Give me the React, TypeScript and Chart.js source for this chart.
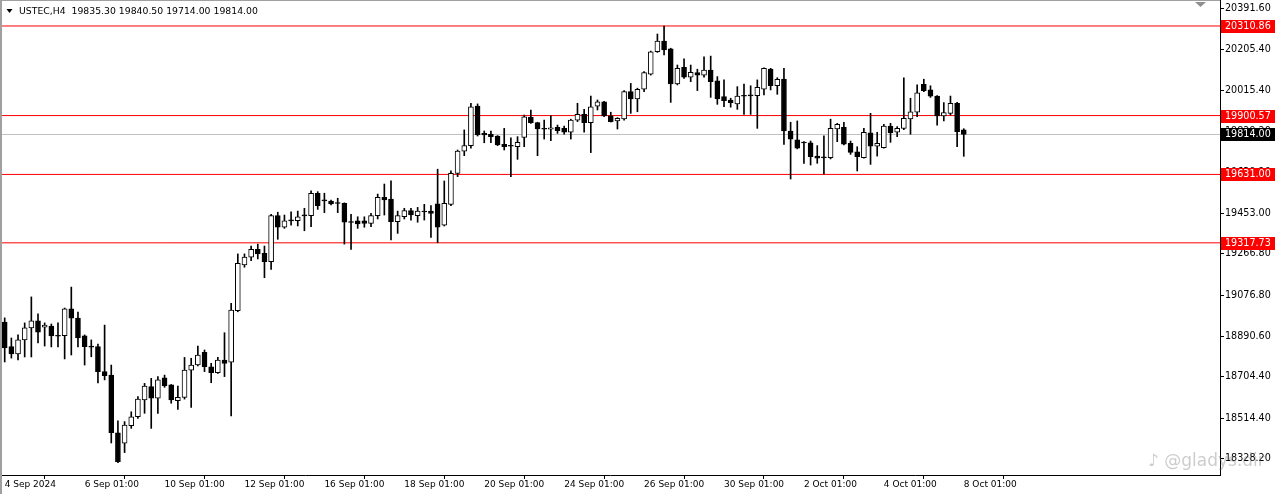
import React, { useEffect, useRef } from "react";
import { Chart, registerables } from "chart.js";
Chart.register(...registerables);

const symbolTitle = "USTEC,H4  19835.30 19840.50 19714.00 19814.00";

const opens = [
  18955, 18842, 18809, 18873, 18928, 18960, 18932, 18937, 18894, 18892,
  19015, 18973, 18892, 18843, 18842, 18728, 18712, 18448, 18400, 18480,
  18521, 18598, 18659, 18606, 18700, 18667, 18595, 18610, 18735, 18758,
  18816, 18750, 18723, 18781, 18771, 19007, 19216, 19252, 19288, 19270,
  19231, 19442, 19389, 19419, 19419, 19442, 19442, 19545, 19511, 19509,
  19499, 19499, 19412, 19418, 19418, 19407, 19442, 19526, 19518, 19415,
  19437, 19465, 19442, 19460, 19463, 19496, 19399, 19494, 19636, 19738,
  19763, 19944, 19819, 19815, 19807, 19769, 19761, 19758, 19801, 19893,
  19868, 19839, 19838, 19847, 19842, 19824, 19880, 19906, 19868, 19944,
  19964, 19899, 19876, 19885, 20010, 19977, 20022, 20090, 20193, 20242,
  20206, 20045, 20122, 20076, 20097, 20086, 20109, 20060, 19987, 19972,
  19954, 19990, 19992, 19992, 20022, 20114, 20037, 20068, 19830, 19789,
  19776, 19776, 19715, 19708, 19708, 19839, 19847, 19774, 19735, 19708,
  19822, 19761, 19753, 19853, 19824, 19842, 19885, 19916, 20044, 20018,
  19990, 19899, 19911, 19957, 19835.3,
];
const highs = [
  18974, 18882, 18896, 18951, 19070, 18992, 18951, 18946, 18951, 19019,
  19115, 19001, 18896, 18873, 18854, 18941, 18758, 18503, 18499, 18544,
  18613, 18674, 18697, 18705, 18712, 18669, 18662, 18793, 18789, 18845,
  18827, 18766, 18793, 18906, 19041, 19267, 19267, 19303, 19312, 19303,
  19448, 19458, 19445, 19460, 19463, 19476, 19556, 19552, 19545, 19514,
  19522, 19501, 19448, 19437, 19437, 19453, 19541, 19587, 19602, 19463,
  19476, 19476, 19480, 19494, 19488, 19655, 19601, 19647, 19743, 19835,
  19957, 19954, 19830, 19830, 19809, 19842, 19799, 19804, 19903, 19926,
  19870, 19880, 19900, 19857, 19853, 19884, 19957, 19929, 19990, 19972,
  19966, 19916, 19891, 20015, 20048, 20026, 20102, 20196, 20274, 20311,
  20209, 20132, 20160, 20132, 20113, 20170, 20173, 20079, 20064, 19980,
  20033, 20045, 20037, 20064, 20119, 20117, 20074, 20117, 19870, 19876,
  19781, 19784, 19763, 19808, 19884, 19865, 19870, 19784, 19758, 19842,
  19911, 19824, 19861, 19865, 19850, 20074, 19980, 20041, 20067, 20037,
  19992, 19960, 19990, 19961, 19840.5,
];
const lows = [
  18772, 18790, 18781, 18795, 18795, 18859, 18845, 18841, 18841, 18786,
  18804, 18841, 18758, 18796, 18676, 18690, 18401, 18311, 18357, 18468,
  18514, 18537, 18468, 18537, 18656, 18583, 18555, 18602, 18564, 18754,
  18728, 18677, 18720, 18705, 18525, 19002, 19206, 19236, 19244, 19158,
  19196, 19334, 19384, 19399, 19395, 19373, 19392, 19471, 19456, 19491,
  19456, 19312, 19288, 19384, 19389, 19392, 19427, 19445, 19331, 19361,
  19427, 19422, 19412, 19422, 19343, 19318, 19395, 19488, 19621, 19717,
  19751, 19807, 19776, 19776, 19763, 19743, 19621, 19700, 19758, 19865,
  19717, 19793, 19786, 19819, 19815, 19793, 19873, 19824, 19731, 19926,
  19895, 19871, 19839, 19880, 19911, 19918, 20010, 20086, 20190, 20178,
  19961, 20041, 20071, 20056, 20015, 20076, 19984, 19952, 19941, 19939,
  19929, 19906, 19906, 19842, 19995, 20018, 19998, 19769, 19610, 19748,
  19682, 19674, 19682, 19632, 19702, 19781, 19766, 19723, 19647, 19705,
  19677, 19715, 19751, 19778, 19804, 19836, 19815, 19895, 20010, 19984,
  19857, 19876, 19903, 19758, 19714,
];
const closes = [
  18836, 18809, 18873, 18928, 18960, 18909, 18941, 18891, 18890, 19015,
  18973, 18882, 18842, 18840, 18728, 18709, 18448, 18315, 18483, 18521,
  18602, 18662, 18606, 18690, 18662, 18598, 18610, 18735, 18758, 18804,
  18750, 18723, 18781, 18766, 19010, 19224, 19252, 19288, 19267, 19231,
  19442, 19389, 19419, 19418, 19437, 19441, 19545, 19488, 19510, 19496,
  19498, 19412, 19411, 19404, 19407, 19442, 19526, 19514, 19415, 19442,
  19465, 19445, 19463, 19459, 19453, 19389, 19499, 19636, 19738, 19763,
  19941, 19812, 19812, 19804, 19766, 19758, 19760, 19778, 19895, 19868,
  19839, 19838, 19845, 19831, 19824, 19880, 19906, 19868, 19941, 19964,
  19899, 19873, 19888, 20010, 19977, 20021, 20097, 20193, 20242, 20201,
  20045, 20117, 20076, 20099, 20086, 20109, 20056, 19977, 19969, 19960,
  19990, 19989, 19991, 20030, 20117, 20037, 20067, 19830, 19793, 19751,
  19775, 19712, 19705, 19707, 19842, 19861, 19770, 19732, 19712, 19824,
  19761, 19774, 19853, 19822, 19842, 19888, 19918, 20005, 20015, 19990,
  19899, 19914, 19957, 19827, 19814,
];

const timeTickBars = [0, 12, 24, 36, 48, 60, 72, 84, 96, 108, 120, 132, 144];
const timeTickLabels = [
  "4 Sep 2024", "6 Sep 01:00", "10 Sep 01:00", "12 Sep 01:00", "16 Sep 01:00",
  "18 Sep 01:00", "20 Sep 01:00", "24 Sep 01:00", "26 Sep 01:00", "30 Sep 01:00",
  "2 Oct 01:00", "4 Oct 01:00", "8 Oct 01:00",
];
const priceTicks = [
  20391.6, 20205.4, 20015.4, 19829.2, 19639.2, 19453.0, 19266.8, 19076.8,
  18890.6, 18704.4, 18514.4, 18328.2,
];
const redLevels = [20310.86, 19900.57, 19631.0, 19317.73];
const bidLevel = 19814.0;

const X_MIN = -0.706;
const X_MAX = 182.47;
const Y_MIN = 18254.4;
const Y_MAX = 20429.9;
const FONT = "'DejaVu Sans', Verdana, sans-serif";

const decorPlugin = {
  id: "mt4decor",
  afterDraw(chart: any) {
    const ctx = chart.ctx as CanvasRenderingContext2D;
    const y = chart.scales.y;
    const area = chart.chartArea;
    ctx.save();
    // frame
    ctx.fillStyle = "#a0a0a0";
    ctx.fillRect(0, 0, 2, chart.height);
    ctx.fillRect(0, 0, area.right, 1);
    // title
    ctx.fillStyle = "#000";
    ctx.beginPath();
    ctx.moveTo(6.5, 9);
    ctx.lineTo(12.5, 9);
    ctx.lineTo(9.5, 13);
    ctx.closePath();
    ctx.fill();
    ctx.font = `9.3px ${FONT}`;
    ctx.textBaseline = "middle";
    ctx.textAlign = "left";
    ctx.fillText(symbolTitle, 19, 11.5);
    // shift marker
    ctx.fillStyle = "#909090";
    ctx.beginPath();
    ctx.moveTo(1195, 2);
    ctx.lineTo(1206, 2);
    ctx.lineTo(1200.5, 7);
    ctx.closePath();
    ctx.fill();
    // level labels
    const drawBox = (v: number, bg: string) => {
      const py = Math.round(y.getPixelForValue(v));
      ctx.fillStyle = bg;
      ctx.fillRect(area.right + 1, py - 6, 54, 13);
      ctx.fillStyle = "#fff";
      ctx.font = `9.6px ${FONT}`;
      ctx.textBaseline = "middle";
      ctx.fillText(v.toFixed(2), area.right + 5, py + 0.5);
    };
    redLevels.forEach((v) => drawBox(v, "#ff0000"));
    drawBox(bidLevel, "#000000");
    // watermark
    ctx.fillStyle = "rgba(110,110,110,0.35)";
    ctx.font = `17px ${FONT}`;
    ctx.textBaseline = "middle";
    ctx.fillText("\u266A @gladys.dir", 1148, 462);
    ctx.restore();
  },
};

export default function App() {
  const ref = useRef<HTMLCanvasElement | null>(null);
  useEffect(() => {
    document.body.style.margin = "0";
    const canvas = ref.current;
    if (!canvas) return;
    Chart.defaults.font.family = FONT;
    Chart.defaults.font.size = 9;
    Chart.defaults.color = "#000";

    const bodies = opens.map((o, i) => ({ x: i, y: [o, closes[i]] }));
    const wicks = lows.map((l, i) => ({ x: i, y: [l, highs[i]] }));
    const bodyColors = opens.map((o, i) => (closes[i] > o ? "#ffffff" : "#000000"));
    const levelLine = (v: number) => [
      { x: X_MIN, y: v },
      { x: X_MAX, y: v },
    ];

    const datasets: any[] = [
      {
        type: "bar",
        data: bodies,
        backgroundColor: bodyColors,
        borderColor: "#000000",
        borderWidth: 1,
        borderSkipped: false,
        barThickness: 5,
        minBarLength: 1,
        grouped: false,
        order: 0,
      },
      {
        type: "bar",
        data: wicks,
        backgroundColor: "#000000",
        borderWidth: 0,
        barThickness: 1,
        grouped: false,
        order: 1,
      },
      ...redLevels.map((v) => ({
        type: "line",
        data: levelLine(v),
        borderColor: "#ff0000",
        borderWidth: 1,
        pointRadius: 0,
        order: 2,
      })),
      {
        type: "line",
        data: levelLine(bidLevel),
        borderColor: "#c0c0c0",
        borderWidth: 1,
        pointRadius: 0,
        order: 3,
      },
    ];

    const chart = new Chart(canvas, {
      type: "bar",
      data: { datasets },
      options: {
        responsive: false,
        animation: false,
        events: [],
        devicePixelRatio: 1,
        layout: { padding: 0 },
        plugins: { legend: { display: false }, tooltip: { enabled: false } },
        scales: {
          x: {
            type: "linear",
            min: X_MIN,
            max: X_MAX,
            offset: false,
            grid: {
              display: true,
              drawOnChartArea: false,
              drawTicks: true,
              tickLength: 4,
              color: "#000",
            },
            border: { display: true, color: "#000", width: 1 },
            ticks: {
              autoSkip: false,
              maxRotation: 0,
              align: "start",
              padding: 0,
              font: { size: 9, family: FONT },
              color: "#000",
              callback: (v: any) => {
                const k = timeTickBars.indexOf(Number(v));
                return k >= 0 ? timeTickLabels[k] : "";
              },
            },
            afterBuildTicks: (s: any) => {
              s.ticks = timeTickBars.map((v) => ({ value: v }));
            },
            afterFit: (s: any) => {
              s.height = 19;
              s.paddingLeft = 0;
              s.paddingRight = 0;
            },
          },
          y: {
            type: "linear",
            position: "right",
            min: Y_MIN,
            max: Y_MAX,
            grid: {
              display: true,
              drawOnChartArea: false,
              drawTicks: true,
              tickLength: 4,
              color: "#000",
            },
            border: { display: true, color: "#000", width: 1 },
            ticks: {
              autoSkip: false,
              padding: 1,
              font: { size: 9.6, family: FONT },
              color: "#000",
              callback: (v: any) => Number(v).toFixed(2),
            },
            afterBuildTicks: (s: any) => {
              s.ticks = priceTicks.map((v) => ({ value: v }));
            },
            afterFit: (s: any) => {
              s.width = 60;
              s.paddingTop = 0;
              s.paddingBottom = 0;
            },
          },
        },
      } as any,
      plugins: [decorPlugin],
    });
    return () => chart.destroy();
  }, []);

  return (
    <div style={{ width: 1280, height: 494, background: "#fff" }}>
      <canvas ref={ref} width={1280} height={494} style={{ display: "block" }} />
    </div>
  );
}
